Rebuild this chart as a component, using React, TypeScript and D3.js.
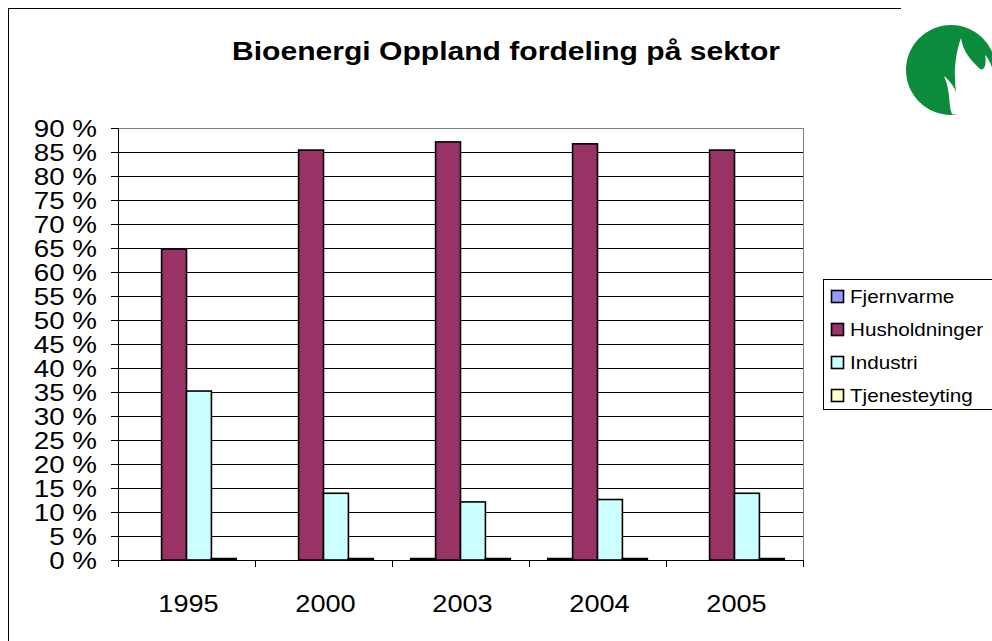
import React, { useRef, useEffect } from "react";
import * as d3 from "d3";

const years = ["1995", "2000", "2003", "2004", "2005"];
const seriesNames = ["Fjernvarme", "Husholdninger", "Industri", "Tjenesteyting"];
const seriesColors = ["#9999FF", "#993366", "#CCFFFF", "#FFFFCC"];
const fjernvarme = [null, null, 0.3, 0.3, null];
const husholdninger = [64.8, 85.4, 87.1, 86.7, 85.4];
const industri = [35.2, 13.9, 12.1, 12.6, 13.9];
const tjenesteyting = [0.3, 0.3, 0.3, 0.3, 0.3];
const yTicks = d3.range(0, 91, 5);

const App = () => {
  const svgRef = useRef<SVGSVGElement>(null);

  const width = 992;
  const height = 641;
  const marginTop = 128;
  const marginLeft = 118;
  const plotRight = 803;
  const plotBottom = 560;
  const stretch = 1.18;
  const font = "Liberation Sans, Arial, sans-serif";

  useEffect(() => {
    const svg = d3.select(svgRef.current);
    svg.selectAll("*").remove();

    const values = [fjernvarme, husholdninger, industri, tjenesteyting];

    // helper for the slightly wide text of the original
    const label = (g, x, y, txt, size, anchor, weight = "normal") =>
      g.append("text")
        .attr("transform", `translate(${x},${y}) scale(${stretch},1)`)
        .attr("text-anchor", anchor)
        .attr("font-family", font)
        .attr("font-size", size)
        .attr("font-weight", weight)
        .attr("fill", "#000")
        .text(txt);

    svg.append("rect")
      .attr("width", width).attr("height", height).attr("fill", "#fff");

    // chart area border
    svg.append("rect")
      .attr("x", 8.5).attr("y", 8.5)
      .attr("width", 1100).attr("height", 800)
      .attr("fill", "none").attr("stroke", "#000");

    const x = d3.scaleBand()
      .domain(years)
      .range([marginLeft, plotRight])
      .paddingInner(0).paddingOuter(0);

    const xs = d3.scaleBand()
      .domain(seriesNames)
      .range([0, x.bandwidth()])
      .paddingInner(0).paddingOuter(0.75);

    const y = d3.scaleLinear()
      .domain([0, 90])
      .range([plotBottom, marginTop]);

    // gridlines
    svg.append("g")
      .selectAll("line")
      .data(yTicks.filter(d => d > 0 && d < 90))
      .join("line")
      .attr("x1", marginLeft).attr("x2", plotRight)
      .attr("y1", d => Math.round(y(d)) + 0.5).attr("y2", d => Math.round(y(d)) + 0.5)
      .attr("stroke", "#000");

    // plot area border
    svg.append("rect")
      .attr("x", marginLeft + 0.5).attr("y", marginTop + 0.5)
      .attr("width", plotRight - marginLeft).attr("height", plotBottom - marginTop)
      .attr("fill", "none").attr("stroke", "#808080");

    // bars
    seriesNames.forEach((name, si) => {
      svg.append("g")
        .selectAll("rect")
        .data(years.map((yr, i) => ({ yr, v: values[si][i] })).filter(d => d.v != null))
        .join("rect")
        .attr("x", d => x(d.yr) + xs(name))
        .attr("y", d => y(d.v))
        .attr("width", xs.bandwidth())
        .attr("height", d => y(0) - y(d.v))
        .attr("fill", seriesColors[si])
        .attr("stroke", "#000")
        .attr("stroke-width", 1.6);
    });

    // y axis
    const ya = svg.append("g");
    ya.append("line")
      .attr("x1", marginLeft + 0.5).attr("x2", marginLeft + 0.5)
      .attr("y1", marginTop).attr("y2", plotBottom + 1)
      .attr("stroke", "#000");
    yTicks.forEach(t => {
      const yy = Math.round(y(t)) + 0.5;
      ya.append("line")
        .attr("x1", marginLeft - 7).attr("x2", marginLeft)
        .attr("y1", yy).attr("y2", yy).attr("stroke", "#000");
      label(ya, 97, yy + 8, `${t} %`, 23.5, "end");
    });

    // x axis
    const xa = svg.append("g");
    xa.append("line")
      .attr("x1", marginLeft).attr("x2", plotRight + 1)
      .attr("y1", plotBottom + 0.5).attr("y2", plotBottom + 0.5)
      .attr("stroke", "#000");
    [...years.map(d => x(d)), plotRight].forEach(px => {
      xa.append("line")
        .attr("x1", Math.round(px) + 0.5).attr("x2", Math.round(px) + 0.5)
        .attr("y1", plotBottom).attr("y2", plotBottom + 7)
        .attr("stroke", "#000");
    });
    years.forEach(yr => {
      label(xa, x(yr) + x.bandwidth() / 2 + 2, 612, yr, 23, "middle");
    });

    // title
    label(svg, 506, 60, "Bioenergi Oppland fordeling på sektor", 25.5, "middle", "bold");

    // legend
    const lg = svg.append("g");
    lg.append("rect")
      .attr("x", 823.5).attr("y", 279.5)
      .attr("width", 200).attr("height", 130)
      .attr("fill", "#fff").attr("stroke", "#000");
    seriesNames.forEach((name, i) => {
      const cy = 297 + i * 33;
      lg.append("rect")
        .attr("x", 831.5).attr("y", cy - 6.5)
        .attr("width", 12).attr("height", 12)
        .attr("fill", seriesColors[i]).attr("stroke", "#000").attr("stroke-width", 1.6);
      label(lg, 850, cy + 6, name, 17.5, "start");
    });

    // logo
    svg.append("rect")
      .attr("x", 901).attr("y", 0).attr("width", 91).attr("height", 125)
      .attr("fill", "#fff");
    svg.append("circle")
      .attr("cx", 951).attr("cy", 70).attr("r", 45)
      .attr("fill", "#0A8C3C");
    svg.append("path")
      .attr("d", "M952,114 C948,104 951,92 944,76 C951,82 955,88 956,93 C954,76 954,58 961,38 C963,52 971,60 979,68 C984,73 987,64 985,55 C992,62 995,75 995,88 L995,112 C985,115 965,116 952,114 Z")
      .attr("fill", "#fff");
  }, []);

  return (
    <svg
      ref={svgRef}
      width={width}
      height={height}
      viewBox={`0 0 ${width} ${height}`}
      style={{ position: "fixed", left: 0, top: 0, display: "block" }}
    />
  );
};

export default App;
